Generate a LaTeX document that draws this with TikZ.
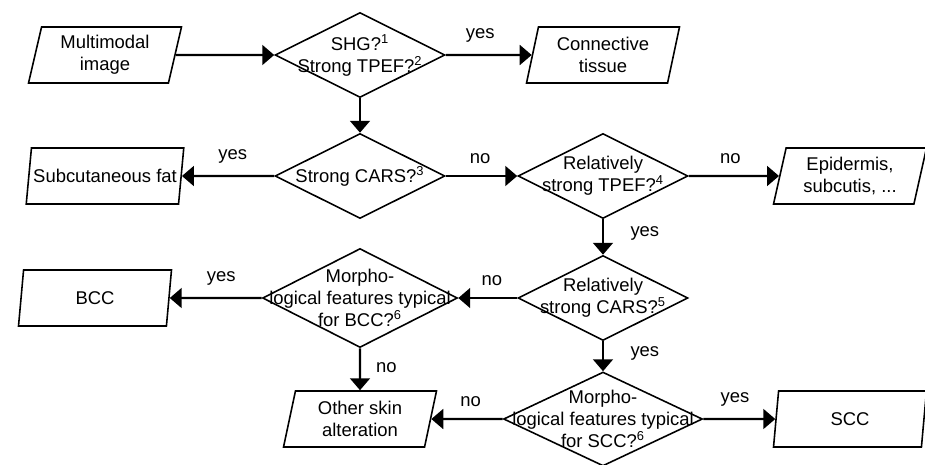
\documentclass[tikz,border=0pt]{standalone}
\usepackage{fontspec}
\setmainfont{Liberation Sans}
\usetikzlibrary{arrows.meta,positioning,shapes.geometric}
\tikzset{
	io/.style={draw, trapezium, trapezium left angle=73, trapezium right angle=107,
		trapezium stretches body, minimum width=3.06cm, minimum height=1.12cm,
		align=center, inner sep=1pt, line width=0.9pt},
	decision/.style={draw, diamond, inner sep=0pt, line width=0.9pt,
		minimum width=3.4cm, minimum height=1.7cm},
	question/.style={label={[align=center]center:{#1}}},
	arrow/.style={-{Triangle[length=6.8pt, width=11.3pt]}, line width=1.3pt},
	answer/.style={inner sep=1pt}
}

\begin{document}
\begin{tikzpicture}[x=0.02cm, y=-0.02cm, font=\fontsize{10.5pt}{12.5pt}\selectfont]
	\useasboundingbox (0,0) rectangle (925,464);
	
	%% -- first row
	\node[io] (img) at (105,55) {Multimodal\\image};
	\node[decision, question={SHG?\textsuperscript{1}\\Strong TPEF?\textsuperscript{2}}]
	(shg) at (360,55) {};
	\node[io] (conn) at (603,55) {Connective\\tissue};
	
	%% -- second row
	\node[io] (fat) at (105,176) {Subcutaneous fat};
	\node[decision, question={Strong CARS?\textsuperscript{3}}] (cars) at (360,176) {};
	\node[decision, question={Relatively\\strong TPEF?\textsuperscript{4}}] (tpef) at (603,176) {};
	\node[io] (epi) at (850,176) {Epidermis,\\subcutis, ...};
	
	%% -- third row
	\node[io] (bcc) at (95,298) {BCC};
	\node[decision, minimum width=3.9cm, minimum height=1.98cm,
	question={Morpho-\\logical features typical\\for BCC?\textsuperscript{6}}] (mbcc) at (360,298) {};
	\node[decision, question={Relatively\\strong CARS?\textsuperscript{5}}] (rcars) at (603,298) {};
	
	%% -- fourth row
	\node[io] (other) at (360,419) {Other skin\\alteration};
	\node[decision, minimum width=3.98cm, minimum height=1.88cm,
	question={Morpho-\\logical features typical\\for SCC?\textsuperscript{6}}] (mscc) at (603,419) {};
	\node[io] (scc) at (850,419) {SCC};
	
	%% -- connectors
	\draw[arrow] (img) -- (shg);
	\draw[arrow] (shg) -- (conn) node[answer, pos=0.4, above=5.5pt] {yes};
	\draw[arrow] (shg) -- (cars);
	\draw[arrow] (cars) -- (fat) node[answer, pos=0.45, above=5.5pt] {yes};
	\draw[arrow] (cars) -- (tpef) node[answer, pos=0.48, above=5.5pt] {no};
	\draw[arrow] (tpef) -- (epi) node[answer, pos=0.46, above=5.5pt] {no};
	\draw[arrow] (tpef) -- (rcars) node[answer, pos=0.4, right=14pt] {yes};
	\draw[arrow] (rcars) -- (mbcc) node[answer, pos=0.43, above=5.5pt] {no};
	\draw[arrow] (mbcc) -- (bcc) node[answer, pos=0.44, above=5.5pt] {yes};
	\draw[arrow] (mbcc) -- (other) node[answer, pos=0.45, right=7.5pt] {no};
	\draw[arrow] (rcars) -- (mscc) node[answer, pos=0.4, right=14pt] {yes};
	\draw[arrow] (mscc) -- (other) node[answer, pos=0.45, above=5.5pt] {no};
	\draw[arrow] (mscc) -- (scc) node[answer, pos=0.44, above=5.5pt] {yes};
	
\end{tikzpicture}
\end{document}
